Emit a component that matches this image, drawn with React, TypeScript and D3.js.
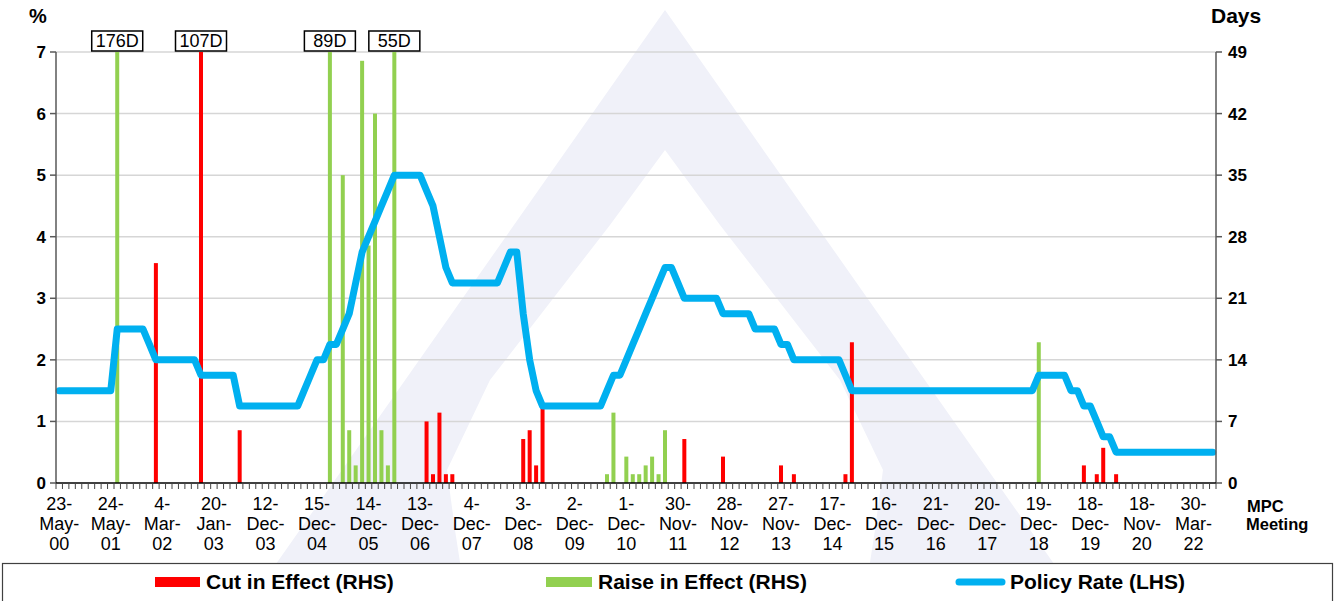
import React from "react";
import * as d3 from "d3";

// ---------- DATA ----------
// Policy rate (%) at each MPC meeting (180 meetings)
const policyRate: number[] = [
  1.5, 1.5, 1.5, 1.5, 1.5, 1.5, 1.5, 1.5, 1.5, 2.5,
  2.5, 2.5, 2.5, 2.5, 2.25, 2.0, 2.0, 2.0, 2.0, 2.0,
  2.0, 2.0, 1.75, 1.75, 1.75, 1.75, 1.75, 1.75, 1.25, 1.25,
  1.25, 1.25, 1.25, 1.25, 1.25, 1.25, 1.25, 1.25, 1.5, 1.75,
  2.0, 2.0, 2.25, 2.25, 2.5, 2.75, 3.25, 3.75, 4.0, 4.25,
  4.5, 4.75, 5.0, 5.0, 5.0, 5.0, 5.0, 4.75, 4.5, 4.0,
  3.5, 3.25, 3.25, 3.25, 3.25, 3.25, 3.25, 3.25, 3.25, 3.5,
  3.75, 3.75, 2.75, 2.0, 1.5, 1.25, 1.25, 1.25, 1.25, 1.25,
  1.25, 1.25, 1.25, 1.25, 1.25, 1.5, 1.75, 1.75, 2.0, 2.25,
  2.5, 2.75, 3.0, 3.25, 3.5, 3.5, 3.25, 3.0, 3.0, 3.0,
  3.0, 3.0, 3.0, 2.75, 2.75, 2.75, 2.75, 2.75, 2.5, 2.5,
  2.5, 2.5, 2.25, 2.25, 2.0, 2.0, 2.0, 2.0, 2.0, 2.0,
  2.0, 2.0, 1.75, 1.5, 1.5, 1.5, 1.5, 1.5, 1.5, 1.5,
  1.5, 1.5, 1.5, 1.5, 1.5, 1.5, 1.5, 1.5, 1.5, 1.5,
  1.5, 1.5, 1.5, 1.5, 1.5, 1.5, 1.5, 1.5, 1.5, 1.5,
  1.5, 1.5, 1.75, 1.75, 1.75, 1.75, 1.75, 1.5, 1.5, 1.25,
  1.25, 1.0, 0.75, 0.75, 0.5, 0.5, 0.5, 0.5, 0.5, 0.5,
  0.5, 0.5, 0.5, 0.5, 0.5, 0.5, 0.5, 0.5, 0.5, 0.5,
];

// Cut in effect (days) – meeting index & days
const cutMeeting: number[] = [15, 22, 28, 57, 58, 59, 60, 61, 72, 73, 74, 75, 97, 103, 112, 114, 122, 123, 159, 161, 162, 164];
const cutDays: number[] = [25, 107, 6, 7, 1, 8, 1, 1, 5, 6, 2, 9, 5, 3, 2, 1, 1, 16, 2, 1, 4, 1];

// Raise in effect (days)
const raiseMeeting: number[] = [9, 42, 44, 45, 46, 47, 48, 49, 50, 51, 52, 85, 86, 88, 89, 90, 91, 92, 93, 94, 152];
const raiseDays: number[] = [176, 89, 35, 6, 2, 48, 27, 42, 6, 2, 55, 1, 8, 3, 1, 1, 2, 3, 1, 6, 16];

// Labelled meetings (every 8th meeting)
const tickLabels: string[] = [
  "23-May-00", "24-May-01", "4-Mar-02", "20-Jan-03", "12-Dec-03", "15-Dec-04",
  "14-Dec-05", "13-Dec-06", "4-Dec-07", "3-Dec-08", "2-Dec-09", "1-Dec-10",
  "30-Nov-11", "28-Nov-12", "27-Nov-13", "17-Dec-14", "16-Dec-15", "21-Dec-16",
  "20-Dec-17", "19-Dec-18", "18-Dec-19", "18-Nov-20", "30-Mar-22",
];
const labelEvery = 8;
const leftTicks: number[] = [0, 1, 2, 3, 4, 5, 6, 7];
const rightTicks: number[] = [0, 7, 14, 21, 28, 35, 42, 49];

// ---------- LAYOUT ----------
const W = 1335;
const H = 601;
const plotL = 56;
const plotR = 1216;
const plotT = 52;
const plotB = 483;
const FONT = "'Liberation Sans', Arial, Helvetica, sans-serif";
const RED = "#ff0000";
const GREEN = "#92d050";
const BLUE = "#00b0f0";
const WM = "#f0f1f9";

export default function App() {
  const idx = policyRate.map((_, i) => i);
  const x = d3.scaleBand<number>().domain(idx).range([plotL, plotR]).paddingInner(0).paddingOuter(0);
  const bw = x.bandwidth();
  const cx = (i: number) => (x(i) as number) + bw / 2;
  const yL = d3.scaleLinear().domain([0, 7]).range([plotB, plotT]);
  const yR = d3.scaleLinear().domain([0, 49]).range([plotB, plotT]);
  const cap = 49;

  const line = d3
    .line<number>()
    .x((_, i) => cx(i))
    .y((d) => yL(d));

  const barW = 4;

  const bars = (meet: number[], days: number[], color: string, key: string) =>
    meet.map((m, k) => {
      const v = Math.min(days[k], cap);
      return (
        <rect
          key={key + k}
          x={cx(m) - barW / 2}
          y={yR(v)}
          width={barW}
          height={yR(0) - yR(v)}
          fill={color}
        />
      );
    });

  const capLabels: { m: number; d: number }[] = [];
  cutMeeting.forEach((m, k) => {
    if (cutDays[k] > cap) capLabels.push({ m, d: cutDays[k] });
  });
  raiseMeeting.forEach((m, k) => {
    if (raiseDays[k] > cap) capLabels.push({ m, d: raiseDays[k] });
  });

  return (
    <svg
      width={W}
      height={H}
      viewBox={`0 0 ${W} ${H}`}
      style={{ position: "absolute", left: 0, top: 0, background: "#fff" }}
      fontFamily={FONT}
    >
      {/* watermark logo */}
      <path
        fill={WM}
        fillRule="evenodd"
        d={
          "M665,10 L250,601 L1080,601 Z " +
          "M665,150 L610,225 L490,380 L447,470 L455,530 L466,601 L864,601 L875,530 L883,470 L840,380 L720,225 Z"
        }
      />

      {/* gridlines */}
      {leftTicks
        .filter((t) => t > 0)
        .map((t) => (
          <line key={"g" + t} x1={plotL} x2={plotR} y1={yL(t)} y2={yL(t)} stroke="#d6d6d6" strokeWidth={1.5} />
        ))}

      {/* bars */}
      {bars(cutMeeting, cutDays, RED, "c")}
      {bars(raiseMeeting, raiseDays, GREEN, "r")}

      {/* policy rate line */}
      <path
        d={line(policyRate) || ""}
        fill="none"
        stroke={BLUE}
        strokeWidth={7}
        strokeLinejoin="round"
        strokeLinecap="round"
      />

      {/* axes */}
      <line x1={plotL} x2={plotL} y1={plotT} y2={plotB} stroke="#595959" strokeWidth={1.5} />
      <line x1={plotR} x2={plotR} y1={plotT} y2={plotB} stroke="#595959" strokeWidth={1.5} />
      {leftTicks.map((t) => (
        <line key={"lt" + t} x1={plotL - 6} x2={plotL} y1={yL(t)} y2={yL(t)} stroke="#595959" strokeWidth={1.5} />
      ))}
      {rightTicks.map((t) => (
        <line key={"rt" + t} x1={plotR} x2={plotR + 6} y1={yR(t)} y2={yR(t)} stroke="#595959" strokeWidth={1.5} />
      ))}
      <line x1={plotL} x2={plotR} y1={plotB} y2={plotB} stroke="#000" strokeWidth={1.5} />
      {idx.concat([idx.length]).map((i) => {
        const xx = i < idx.length ? (x(i) as number) : plotR;
        return <line key={"xt" + i} x1={xx} x2={xx} y1={plotB} y2={plotB + 6} stroke="#444" strokeWidth={1} />;
      })}

      {/* left / right tick labels */}
      {leftTicks.map((t) => (
        <text key={"ll" + t} x={46} y={yL(t) + 6} textAnchor="end" fontSize={17} fontWeight="bold" fill="#000">
          {t}
        </text>
      ))}
      {rightTicks.map((t) => (
        <text key={"rl" + t} x={1228} y={yR(t) + 6} textAnchor="start" fontSize={17} fontWeight="bold" fill="#000">
          {t}
        </text>
      ))}
      <text x={29} y={23} fontSize={20} fontWeight="bold">%</text>
      <text x={1211} y={23} fontSize={21} fontWeight="bold">Days</text>

      {/* x labels */}
      {tickLabels.map((lab, k) => {
        const i = k * labelEvery;
        const parts = lab.split("-");
        const lines = [parts[0] + "-", parts[1] + "-", parts[2]];
        return (
          <text key={"xl" + k} x={cx(i)} textAnchor="middle" fontSize={18} fill="#000">
            {lines.map((s, j) => (
              <tspan key={j} x={cx(i)} y={510 + j * 20}>
                {s}
              </tspan>
            ))}
          </text>
        );
      })}
      <text x={1247} y={512} fontSize={16.5} fontWeight="bold">MPC</text>
      <text x={1246} y={530} fontSize={16.5} fontWeight="bold">Meeting</text>

      {/* capped bar labels */}
      {capLabels.map(({ m, d }) => (
        <g key={"cl" + m}>
          <rect x={cx(m) - 25.5} y={31} width={51} height={20} fill="#fff" stroke="#000" strokeWidth={1.5} />
          <text x={cx(m)} y={47} textAnchor="middle" fontSize={18}>
            {d + "D"}
          </text>
        </g>
      ))}

      {/* legend */}
      <rect x={2.5} y={563.5} width={1330} height={40} fill="#fff" stroke="#404040" strokeWidth={1.2} />
      <rect x={155} y={577} width={45} height={10} fill={RED} />
      <text x={206} y={589} fontSize={21} fontWeight="bold">Cut in Effect (RHS)</text>
      <rect x={546} y={577} width={46} height={10} fill={GREEN} />
      <text x={598} y={589} fontSize={21} fontWeight="bold">Raise in Effect (RHS)</text>
      <line x1={959} x2={1002} y1={582} y2={582} stroke={BLUE} strokeWidth={7} strokeLinecap="round" />
      <text x={1010} y={589} fontSize={21} fontWeight="bold">Policy Rate (LHS)</text>
    </svg>
  );
}
